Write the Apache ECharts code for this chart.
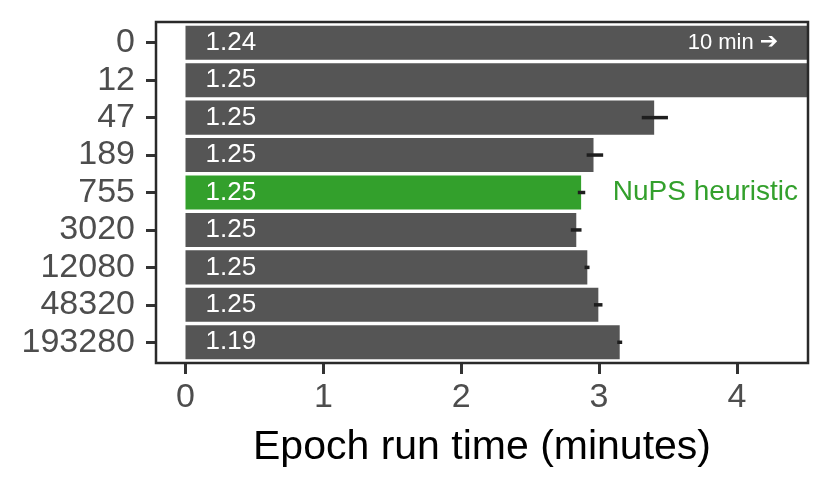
<!DOCTYPE html>
<html>
<head>
<meta charset="utf-8">
<script src="https://cdn.jsdelivr.net/npm/echarts@6/dist/echarts.min.js"></script>
<style>
html,body{margin:0;padding:0;background:#fff;}
#chart{width:830px;height:496px;}
</style>
</head>
<body>
<div id="chart"></div>
<script>
// ---- data ----
const categories = ['0', '12', '47', '189', '755', '3020', '12080', '48320', '193280'];
const runTime = [10, 6.5, 3.40, 2.96, 2.87, 2.835, 2.915, 2.995, 3.15];
const errLow  = [null, null, 3.31, 2.91, 2.846, 2.795, 2.895, 2.963, 3.132];
const errHigh = [null, null, 3.50, 3.03, 2.900, 2.873, 2.931, 3.025, 3.168];
const barLabels = ['1.24', '1.25', '1.25', '1.25', '1.25', '1.25', '1.25', '1.25', '1.19'];
const highlightCategory = '755';
const xTicks = [0, 1, 2, 3, 4];
const xTitle = 'Epoch run time (minutes)';
const noteRight = { text: '10 min ', arrow: '\u2794', x: 4.3, category: '0' };
const noteLeft = { text: 'NuPS heuristic', x: 3.1, category: '755' };

const GRAY = '#555555';
const GREEN = '#33a02c';
const FONT = 'Liberation Sans, Arial, Helvetica, sans-serif';

const chart = echarts.init(document.getElementById('chart'), null, { renderer: 'canvas' });

const barData = runTime.map((v, i) => ({
  value: v,
  itemStyle: { color: categories[i] === highlightCategory ? GREEN : GRAY },
  label: { formatter: barLabels[i] }
}));

const errData = [];
categories.forEach((c, i) => {
  if (errLow[i] != null) errData.push([errLow[i], errHigh[i], i]);
});

const option = {
  animation: false,
  backgroundColor: '#ffffff',
  grid: { left: 156, right: 22, top: 24, bottom: 135, containLabel: false },
  xAxis: {
    type: 'value',
    min: -0.214,
    max: 4.516,
    offset: 2,
    name: xTitle,
    nameLocation: 'middle',
    nameGap: 64,
    nameTextStyle: { fontFamily: FONT, fontSize: 41, color: '#000' },
    axisLine: { show: false, onZero: false },
    axisTick: { show: true, customValues: xTicks, length: 11, lineStyle: { color: '#333', width: 3 } },
    axisLabel: { customValues: xTicks, fontFamily: FONT, fontSize: 34, color: '#4d4d4d', margin: 18 },
    splitLine: { show: false }
  },
  yAxis: {
    type: 'category',
    data: categories,
    inverse: true,
    axisLine: { show: false, onZero: false },
    axisTick: { show: true, alignWithLabel: true, interval: 0, length: 10, lineStyle: { color: '#333', width: 3 } },
    axisLabel: { interval: 0, fontFamily: FONT, fontSize: 34, color: '#4d4d4d', margin: 21 },
    splitLine: { show: false }
  },
  series: [
    {
      type: 'bar',
      data: barData,
      barWidth: '91%',
      label: {
        show: true,
        position: 'insideLeft',
        distance: 20,
        color: '#fff',
        fontFamily: FONT,
        fontSize: 26
      },
      z: 2
    },
    {
      type: 'custom',
      data: errData,
      encode: { x: [0, 1], y: 2 },
      clip: true,
      z: 3,
      renderItem: function (params, api) {
        const a = api.coord([api.value(0), api.value(2)]);
        const b = api.coord([api.value(1), api.value(2)]);
        return {
          type: 'line',
          shape: { x1: a[0], y1: a[1], x2: b[0], y2: b[1] },
          style: { stroke: '#1e1e1e', lineWidth: 3.5 }
        };
      }
    },
    {
      type: 'scatter',
      symbolSize: 0,
      z: 4,
      silent: true,
      itemStyle: { opacity: 1 },
      data: [[noteRight.x, noteRight.category]],
      label: {
        show: true, position: 'left', distance: 0,
        formatter: '{t|' + noteRight.text + '}{a|' + noteRight.arrow + '}',
        rich: {
          t: { color: '#fff', fontFamily: FONT, fontSize: 22 },
          a: { color: '#fff', fontFamily: 'DejaVu Sans', fontSize: 22 }
        }
      }
    },
    {
      type: 'scatter',
      symbolSize: 0,
      z: 4,
      silent: true,
      itemStyle: { opacity: 1 },
      data: [[noteLeft.x, noteLeft.category]],
      label: {
        show: true, position: 'right', distance: 0,
        formatter: noteLeft.text, color: GREEN, fontFamily: FONT, fontSize: 28
      }
    }
  ],
  graphic: [
    {
      type: 'rect',
      shape: { x: 156, y: 22, width: 652, height: 341 },
      style: { fill: null, stroke: '#2a2a2a', lineWidth: 2.5 },
      z: 100
    }
  ]
};

chart.setOption(option);
</script>
</body>
</html>
